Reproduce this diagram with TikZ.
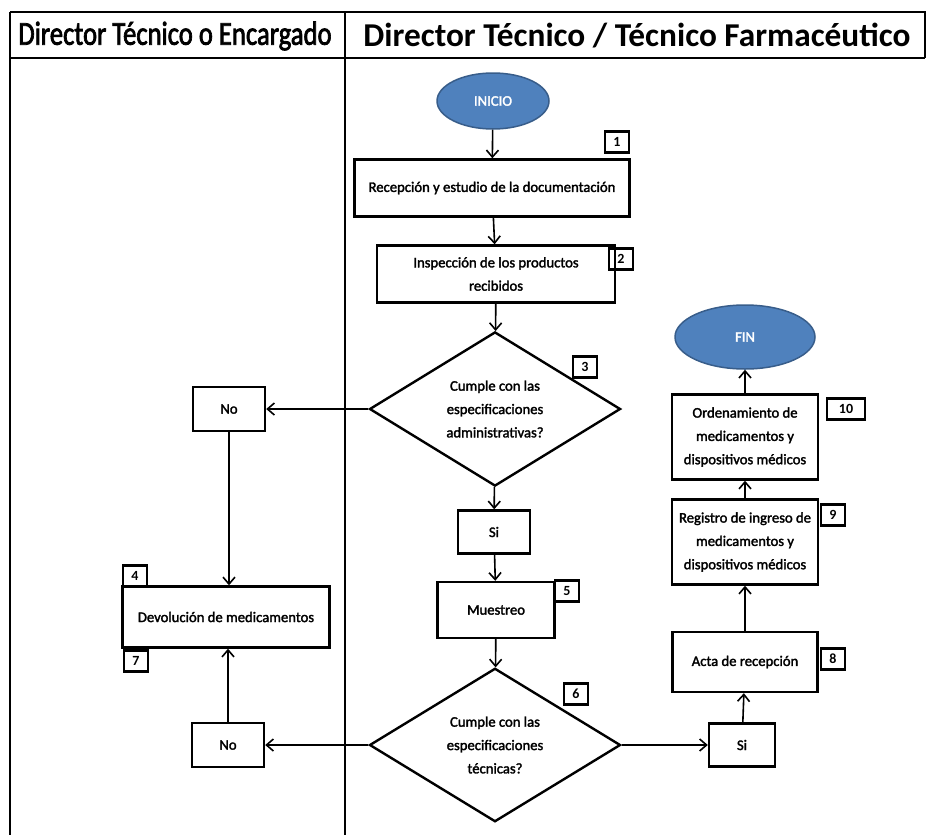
\documentclass[tikz,border=0pt]{standalone}
\usepackage{fontspec}
\setmainfont{Carlito}
\newfontfamily\boxfont{Carlito}[FakeBold=2]
\newfontfamily\laneAfont{Carlito}[FakeBold=2.5]
\usetikzlibrary{shapes.geometric,arrows.meta}
\newdimen\pxu \pxu=0.75pt
\definecolor{termfill}{HTML}{4F81BD}
\definecolor{termline}{HTML}{385D8A}
\begin{document}
\begin{tikzpicture}[x=0.75pt,y=-0.75pt,
  lane/.style={line width=1.8\pxu},
  proc/.style={draw, line width=2.4\pxu, align=center, inner sep=1pt,
    font=\boxfont\fontsize{11}{17.5}\selectfont},
  decision/.style={diamond, draw, line width=2.4\pxu, align=center, inner sep=0pt,
    font=\boxfont\fontsize{11}{17.5}\selectfont},
  term/.style={ellipse, draw=termline, fill=termfill, line width=1.5\pxu,
    text=white, font=\boxfont\fontsize{11}{12}\selectfont},
  numbox/.style={draw, line width=2.2\pxu, inner sep=0pt, minimum width=24\pxu,
    minimum height=21\pxu, font=\fontsize{10.5}{12}\selectfont\bfseries},
  flow/.style={line width=1.2pt, -{Straight Barb[length=5.25pt,width=9pt,line width=1.2pt]}},
  head/.style={font=\fontsize{25}{30}\selectfont\bfseries}]

\useasboundingbox (0,0) rectangle (930,835);

% swimlane frame
\draw[lane] (10,12) -- (925,12) -- (925,58);
\draw[lane] (10,58) -- (925,58);
\draw[lane] (10,12) -- (10,835);
\draw[lane] (345,12) -- (345,835);
\node[font=\laneAfont\fontsize{25}{30}\selectfont] (laneA) at (175,36) {\scalebox{0.8}[1]{Director Técnico o Encargado}};
\node[head] (laneB) at (637,36) {Director Técnico / Técnico Farmacéutico};

% main column
\node[term, minimum width=112\pxu, minimum height=56\pxu] (inicio) at (493,101) {INICIO};
\node[proc, minimum width=275\pxu, minimum height=57\pxu] (recep) at (492,188) {Recepción y estudio de la documentación};
\node[numbox] (n1) at (617,142) {1};
\node[proc, minimum width=238\pxu, minimum height=57\pxu] (insp) at (496,274) {Inspección de los productos\\recibidos};
\node[numbox] (n2) at (621,259) {2};
\node[decision, minimum width=251\pxu, minimum height=154\pxu] (adm) at (495,409) {Cumple con las\\especificaciones\\administrativas?};
\node[numbox] (n3) at (585,367) {3};
\node[proc, minimum width=72\pxu, minimum height=43\pxu] (siA) at (494,532) {Si};
\node[proc, minimum width=117\pxu, minimum height=56\pxu] (muest) at (496,610) {Muestreo};
\node[numbox] (n5) at (567,591) {5};
\node[decision, minimum width=251\pxu, minimum height=142\pxu] (tec) at (495,745) {Cumple con las\\especificaciones\\técnicas?};
\node[numbox] (n6) at (576,694) {6};

% left column
\node[proc, minimum width=72\pxu, minimum height=44\pxu] (noA) at (229,409) {No};
\node[proc, minimum width=207\pxu, minimum height=61\pxu] (devol) at (226,617) {Devolución de medicamentos};
\node[numbox] (n4) at (135,576) {4};
\node[numbox] (n7) at (136,661) {7};
\node[proc, minimum width=72\pxu, minimum height=44\pxu] (noB) at (228,745) {No};

% right column
\node[proc, minimum width=66\pxu, minimum height=43\pxu] (siB) at (742,745) {Si};
\node[proc, minimum width=145\pxu, minimum height=60\pxu] (acta) at (745,662) {Acta de recepción};
\node[numbox] (n8) at (833,659) {8};
\node[proc, minimum width=146\pxu, minimum height=85\pxu] (regis) at (745,542) {Registro de ingreso de\\medicamentos y\\dispositivos médicos};
\node[numbox] (n9) at (833,515) {9};
\node[proc, minimum width=146\pxu, minimum height=85\pxu] (orden) at (745,437) {Ordenamiento de\\medicamentos y\\dispositivos médicos};
\node[numbox, minimum width=38\pxu] (n10) at (846,409) {10};
\node[term, minimum width=140\pxu, minimum height=64\pxu] (fin) at (745,337) {FIN};

% connectors
\draw[flow] (inicio) -- (recep);
\draw[flow] (recep) -- (insp);
\draw[flow] (insp) -- (adm);
\draw[flow] (adm.west) -- (noA.east);
\draw[flow] (adm) -- (siA);
\draw[flow] (siA) -- (muest);
\draw[flow] (muest) -- (tec);
\draw[flow] (noA.south) -- (noA.south |- devol.north);
\draw[flow] (tec.west) -- (noB.east);
\draw[flow] (noB.north) -- (noB.north |- devol.south);
\draw[flow] (tec.east) -- (siB.west);
\draw[flow] (siB) -- (acta);
\draw[flow] (acta) -- (regis);
\draw[flow] (regis) -- (orden);
\draw[flow] (orden) -- (fin);
\end{tikzpicture}
\end{document}
